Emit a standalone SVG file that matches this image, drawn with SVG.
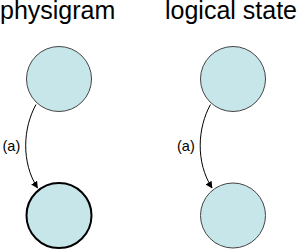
<svg xmlns="http://www.w3.org/2000/svg" width="300" height="249" viewBox="0 0 300 249">
<style>
.title{font-family:"Liberation Sans",Arial,sans-serif;font-size:25px;fill:#000}
.lbl{font-family:"Liberation Sans",Arial,sans-serif;font-size:14.5px;fill:#000}
.st{fill:#c7e6ea;stroke:#444;stroke-width:1}
.st.bold{stroke:#000;stroke-width:2}
.edge{fill:none;stroke:#000;stroke-width:1;marker-end:url(#arr)}
</style>
<defs>
<marker id="arr" viewBox="0 0 10 10" refX="9" refY="5" markerWidth="7" markerHeight="7" markerUnits="userSpaceOnUse" orient="auto">
<path d="M0,0 L10,5 L0,10 Z" fill="#000"/>
</marker>
</defs>
<rect width="300" height="249" fill="#fff"/>
<text class="title" x="0" y="18.5">physigram</text>
<text class="title" x="165" y="18.5">logical state</text>
<g id="p1"><circle class="st" cx="59" cy="79" r="32.5"/></g>
<g id="p2"><circle class="st bold" cx="59" cy="215.5" r="32.5"/></g>
<g id="l1"><circle class="st" cx="233" cy="79" r="32.5"/></g>
<g id="l2"><circle class="st" cx="233" cy="215.5" r="32.5"/></g>
<g id="connectors">
<path class="edge" d="M36,104.5 C23,128 21,162 37.5,188"/>
<text class="lbl" x="2.5" y="150.5">(a)</text>
<path class="edge" d="M210.5,104.5 C197.5,128 195.5,162 212,188"/>
<text class="lbl" x="177" y="150.5">(a)</text>
</g>
</svg>
